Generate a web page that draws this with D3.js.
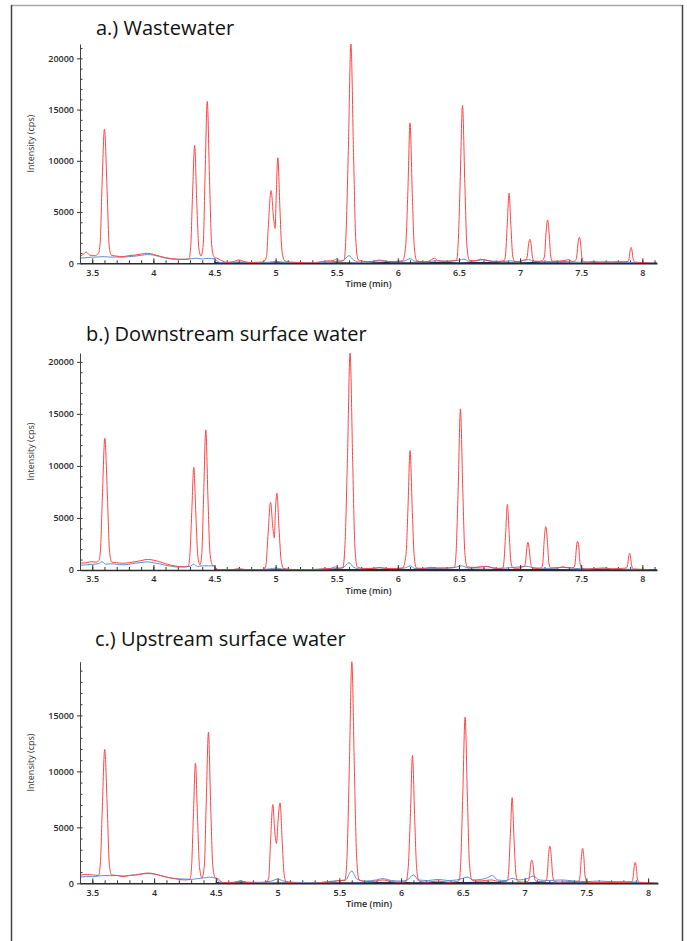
<!DOCTYPE html>
<html>
<head>
<meta charset="utf-8">
<script src="https://cdn.jsdelivr.net/npm/d3@7"></script>
<style>
  body { margin: 0; background: #fff; }
  svg { display: block; }
</style>
</head>
<body>
<div id="chart"></div>
<script>
const width = 687,
  height = 941;

// tick labels
const timeTicks = [3.5, 4, 4.5, 5, 5.5, 6, 6.5, 7, 7.5, 8];
const intensityTicksAB = [0, 5000, 10000, 15000, 20000];
const intensityTicksC = [0, 5000, 10000, 15000];
const titles = ["a.) Wastewater", "b.) Downstream surface water", "c.) Upstream surface water"];

// ---- a.) wastewater : [time (min), intensity (cps)]
const redA = [
  [3.40, 650], [3.43, 900], [3.45, 1100], [3.48, 800], [3.52, 750], [3.55, 950],
  [3.565, 2000], [3.58, 7500], [3.60, 13100], [3.622, 7000], [3.638, 1800], [3.655, 800],
  [3.70, 700], [3.75, 650], [3.80, 750], [3.85, 800], [3.90, 900], [3.95, 980], [4.00, 880],
  [4.05, 700], [4.10, 550], [4.15, 450], [4.20, 400], [4.25, 380], [4.29, 420],
  [4.305, 1500], [4.32, 6500], [4.338, 11500], [4.355, 6000], [4.372, 1500], [4.39, 700],
  [4.408, 1800], [4.423, 8500], [4.441, 15800], [4.46, 8000], [4.477, 1800], [4.495, 650],
  [4.52, 500], [4.56, 250], [4.60, 100], [4.65, 150], [4.70, 320], [4.75, 150], [4.80, 80],
  [4.85, 100], [4.90, 150],
  [4.925, 600], [4.94, 3500], [4.963, 7100], [4.985, 4200], [4.996, 3400], [5.005, 6500],
  [5.018, 10300], [5.035, 5500], [5.05, 1500], [5.07, 300],
  [5.10, 150], [5.15, 100], [5.20, 80], [5.25, 30], [5.30, 20], [5.35, 120], [5.40, 200],
  [5.45, 250], [5.48, 300], [5.50, 450], [5.53, 200], [5.56, 300],
  [5.575, 2500], [5.595, 11000], [5.616, 21400], [5.638, 10500], [5.655, 2500], [5.675, 350],
  [5.72, 200], [5.78, 150], [5.85, 250], [5.90, 200], [5.95, 150], [6.00, 200], [6.04, 250],
  [6.065, 1800], [6.082, 7000], [6.10, 13700], [6.118, 6800], [6.135, 1500], [6.155, 250],
  [6.20, 150], [6.25, 200], [6.30, 500], [6.33, 250], [6.40, 200], [6.45, 250], [6.48, 300],
  [6.493, 1800], [6.51, 8000], [6.529, 15400], [6.548, 7800], [6.565, 1700], [6.585, 300],
  [6.63, 250], [6.68, 400], [6.72, 300], [6.78, 150], [6.83, 200], [6.87, 250],
  [6.88, 700], [6.895, 3800], [6.91, 6830], [6.925, 3600], [6.94, 700], [6.955, 200],
  [6.99, 150], [7.03, 300], [7.05, 350],
  [7.06, 800], [7.07, 1900], [7.08, 2340], [7.09, 1900], [7.10, 700], [7.115, 200],
  [7.15, 200], [7.18, 250],
  [7.20, 700], [7.212, 3000], [7.225, 4220], [7.238, 2900], [7.25, 700], [7.265, 200],
  [7.30, 200], [7.35, 250], [7.40, 350], [7.43, 150], [7.455, 300],
  [7.465, 800], [7.475, 2100], [7.485, 2540], [7.495, 2000], [7.505, 600], [7.52, 150],
  [7.56, 100], [7.60, 150], [7.65, 100], [7.70, 150], [7.75, 120], [7.80, 150], [7.85, 150], [7.885, 200],
  [7.892, 500], [7.90, 1200], [7.908, 1560], [7.916, 1200], [7.925, 400], [7.94, 120],
  [7.98, 80], [8.02, 50], [8.05, 30]
];
const blueA = [
  [3.40, 500], [3.45, 550], [3.50, 600], [3.55, 620], [3.60, 650], [3.65, 600], [3.70, 620],
  [3.75, 600], [3.80, 650], [3.85, 700], [3.90, 780], [3.95, 850], [4.00, 800], [4.05, 650],
  [4.10, 500], [4.15, 420], [4.20, 380], [4.25, 400], [4.30, 420], [4.35, 500], [4.40, 420],
  [4.45, 480], [4.50, 420], [4.53, 150], [4.56, 50], [4.65, 80], [4.70, 150], [4.75, 80],
  [4.85, 60], [4.95, 100], [5.00, 200], [5.05, 120], [5.15, 60], [5.30, 40], [5.45, 150],
  [5.55, 250], [5.60, 750], [5.64, 300], [5.70, 120], [5.80, 200], [5.85, 320], [5.90, 200],
  [6.00, 150], [6.06, 250], [6.10, 450], [6.14, 200], [6.25, 150], [6.30, 250], [6.40, 200],
  [6.50, 300], [6.54, 400], [6.58, 200], [6.65, 250], [6.70, 350], [6.75, 250], [6.85, 150],
  [6.92, 250], [6.97, 150], [7.03, 300], [7.07, 350], [7.12, 200], [7.20, 150], [7.30, 200],
  [7.40, 150], [7.50, 100], [7.60, 150], [7.70, 100], [7.80, 120], [7.90, 80], [7.96, 60]
];
const darkA = [
  [4.50, 100], [4.55, 30], [4.70, 50], [4.90, 20], [5.10, 40], [5.30, 10], [5.50, 40], [5.70, 30],
  [5.90, 60], [6.10, 40], [6.30, 70], [6.50, 50], [6.70, 80], [6.90, 40], [7.10, 60], [7.30, 40],
  [7.50, 30], [7.70, 50], [7.90, 30], [8.12, 20]
];

// ---- b.) downstream surface water
const redB = [
  [3.40, 650], [3.45, 700], [3.50, 800], [3.53, 750], [3.555, 900],
  [3.568, 2000], [3.583, 7000], [3.603, 12660], [3.625, 6800], [3.642, 1700], [3.66, 750],
  [3.70, 700], [3.75, 650], [3.80, 700], [3.85, 800], [3.90, 900], [3.95, 1020], [4.00, 950],
  [4.05, 800], [4.10, 600], [4.15, 450], [4.20, 350], [4.25, 300], [4.285, 350],
  [4.298, 1300], [4.314, 5500], [4.331, 9870], [4.348, 5200], [4.365, 1200], [4.382, 500],
  [4.396, 1500], [4.411, 7000], [4.429, 13460], [4.447, 6800], [4.464, 1500], [4.485, 450],
  [4.50, 400], [4.52, 50], [4.55, 0], [4.65, 30], [4.70, 120], [4.75, 30], [4.85, 0], [4.90, 50],
  [4.92, 400], [4.937, 3200], [4.959, 6500], [4.978, 4000], [4.99, 3100], [4.998, 5500],
  [5.011, 7370], [5.028, 4000], [5.045, 1000], [5.065, 150],
  [5.10, 80], [5.20, 30], [5.30, 20], [5.38, 100], [5.45, 150], [5.49, 300], [5.52, 150], [5.55, 250],
  [5.568, 2500], [5.588, 10800], [5.609, 20850], [5.631, 10300], [5.648, 2400], [5.668, 300],
  [5.72, 150], [5.80, 150], [5.85, 250], [5.90, 150], [6.00, 150], [6.04, 200],
  [6.067, 1500], [6.083, 6000], [6.10, 11470], [6.118, 5800], [6.134, 1300], [6.152, 200],
  [6.20, 150], [6.27, 250], [6.32, 200], [6.40, 200], [6.45, 250], [6.465, 300],
  [6.477, 1800], [6.494, 8000], [6.512, 15480], [6.531, 7800], [6.548, 1700], [6.567, 300],
  [6.62, 250], [6.68, 300], [6.72, 350], [6.78, 200], [6.83, 150], [6.86, 200],
  [6.867, 700], [6.882, 3500], [6.896, 6300], [6.911, 3400], [6.926, 700], [6.942, 200],
  [6.98, 150], [7.02, 300], [7.035, 350],
  [7.045, 800], [7.055, 2100], [7.064, 2660], [7.074, 2100], [7.085, 800], [7.10, 200],
  [7.14, 150], [7.175, 200],
  [7.186, 700], [7.198, 3000], [7.21, 4170], [7.223, 2900], [7.235, 700], [7.25, 200],
  [7.30, 200], [7.35, 300], [7.40, 200], [7.44, 250],
  [7.452, 800], [7.461, 2200], [7.47, 2760], [7.48, 2200], [7.49, 700], [7.505, 150],
  [7.55, 100], [7.62, 150], [7.70, 200], [7.75, 100], [7.82, 150], [7.87, 200],
  [7.88, 500], [7.888, 1250], [7.896, 1600], [7.904, 1250], [7.913, 400], [7.928, 100],
  [7.97, 80], [8.02, 50], [8.05, 30]
];
const blueB = [
  [3.40, 450], [3.45, 500], [3.50, 550], [3.55, 600], [3.58, 800], [3.61, 550], [3.65, 600],
  [3.70, 550], [3.75, 500], [3.80, 550], [3.85, 650], [3.90, 720], [3.95, 780], [4.00, 700],
  [4.05, 600], [4.10, 450], [4.15, 350], [4.20, 280], [4.25, 300], [4.30, 350], [4.33, 550],
  [4.36, 350], [4.40, 400], [4.45, 400], [4.50, 380], [4.52, 50], [4.60, 30], [4.70, 80],
  [4.80, 30], [4.95, 100], [5.00, 180], [5.05, 100], [5.20, 30], [5.40, 100], [5.55, 200],
  [5.60, 700], [5.64, 250], [5.70, 100], [5.85, 200], [5.95, 120], [6.06, 200], [6.10, 400],
  [6.14, 150], [6.30, 150], [6.45, 200], [6.52, 400], [6.58, 200], [6.65, 250], [6.72, 350],
  [6.80, 150], [6.90, 200], [7.00, 300], [7.05, 350], [7.12, 200], [7.25, 150], [7.35, 250],
  [7.45, 150], [7.55, 100], [7.70, 120], [7.85, 80], [7.95, 60]
];
const darkB = [
  [4.50, 80], [4.55, 20], [4.70, 40], [4.90, 10], [5.10, 30], [5.30, 10], [5.50, 30], [5.70, 40],
  [5.90, 50], [6.10, 30], [6.30, 60], [6.50, 40], [6.70, 70], [6.90, 30], [7.10, 50], [7.30, 30],
  [7.50, 20], [7.70, 40], [7.90, 20], [8.12, 20]
];

// ---- c.) upstream surface water
const redC = [
  [3.40, 700], [3.45, 800], [3.50, 750], [3.55, 700],
  [3.565, 1800], [3.58, 6500], [3.60, 11960], [3.622, 6300], [3.638, 1600], [3.655, 750],
  [3.70, 700], [3.75, 600], [3.80, 700], [3.85, 750], [3.90, 850], [3.95, 920], [4.00, 850],
  [4.05, 700], [4.10, 550], [4.15, 450], [4.20, 350], [4.25, 300], [4.29, 350],
  [4.303, 1400], [4.318, 6000], [4.335, 10740], [4.352, 5700], [4.368, 1400], [4.388, 500],
  [4.407, 1600], [4.422, 7200], [4.44, 13500], [4.458, 7000], [4.475, 1600], [4.495, 500],
  [4.52, 400], [4.55, 80], [4.60, 50], [4.65, 80], [4.70, 180], [4.75, 80], [4.80, 30],
  [4.88, 0], [4.91, 100],
  [4.928, 500], [4.943, 3800], [4.961, 7030], [4.978, 4500], [4.991, 3560], [5.003, 5500],
  [5.02, 7180], [5.037, 3800], [5.052, 900], [5.07, 100],
  [5.10, 50], [5.20, 0], [5.30, 0], [5.38, 100], [5.45, 150], [5.50, 250], [5.545, 250],
  [5.562, 2400], [5.581, 10500], [5.601, 19800], [5.622, 10000], [5.64, 2300], [5.66, 300],
  [5.72, 150], [5.80, 200], [5.85, 300], [5.92, 150], [6.00, 100], [6.04, 150],
  [6.058, 1500], [6.075, 6000], [6.092, 11420], [6.11, 5800], [6.126, 1300], [6.145, 200],
  [6.20, 100], [6.25, 150], [6.30, 200], [6.38, 100], [6.45, 150], [6.47, 250],
  [6.482, 1700], [6.499, 7800], [6.518, 14840], [6.537, 7600], [6.554, 1600], [6.573, 300],
  [6.62, 200], [6.68, 250], [6.73, 300], [6.80, 150], [6.85, 150], [6.86, 250],
  [6.869, 800], [6.884, 4200], [6.899, 7660], [6.914, 4000], [6.93, 800], [6.946, 150],
  [6.99, 100], [7.02, 150], [7.032, 250],
  [7.04, 700], [7.049, 1700], [7.058, 2070], [7.068, 1700], [7.078, 600], [7.092, 200],
  [7.13, 150], [7.172, 200],
  [7.182, 600], [7.193, 2400], [7.204, 3320], [7.216, 2400], [7.228, 600], [7.243, 150],
  [7.29, 100], [7.35, 150], [7.40, 150], [7.44, 200],
  [7.45, 800], [7.46, 2400], [7.469, 3120], [7.479, 2400], [7.489, 700], [7.505, 100],
  [7.55, 50], [7.62, 80], [7.70, 100], [7.75, 60], [7.82, 80], [7.87, 150],
  [7.878, 500], [7.887, 1450], [7.895, 1870], [7.904, 1450], [7.913, 400], [7.928, 80],
  [7.97, 50], [8.02, 30], [8.05, 20]
];
const blueC = [
  [3.40, 550], [3.45, 600], [3.50, 600], [3.55, 650], [3.60, 700], [3.65, 680], [3.70, 700],
  [3.75, 650], [3.80, 700], [3.85, 750], [3.90, 820], [3.95, 870], [4.00, 820], [4.05, 700],
  [4.10, 550], [4.15, 450], [4.20, 400], [4.25, 380], [4.30, 350], [4.35, 420], [4.40, 480],
  [4.45, 550], [4.50, 450], [4.53, 100], [4.56, 50], [4.65, 100], [4.70, 230], [4.75, 100],
  [4.85, 80], [4.95, 200], [5.00, 380], [5.05, 200], [5.15, 80], [5.30, 50], [5.45, 200],
  [5.55, 300], [5.60, 1100], [5.64, 400], [5.70, 200], [5.80, 300], [5.85, 420], [5.92, 250],
  [6.00, 200], [6.05, 300], [6.10, 750], [6.14, 300], [6.22, 250], [6.30, 350], [6.38, 250],
  [6.45, 300], [6.50, 450], [6.54, 550], [6.58, 300], [6.65, 350], [6.70, 500], [6.74, 700],
  [6.78, 300], [6.85, 250], [6.90, 450], [6.95, 300], [7.03, 450], [7.07, 650], [7.12, 300],
  [7.20, 250], [7.30, 300], [7.40, 200], [7.50, 150], [7.60, 200], [7.70, 150], [7.80, 150],
  [7.90, 100], [7.96, 80]
];
const darkC = [
  [4.50, 90], [4.55, 30], [4.70, 50], [4.90, 20], [5.10, 40], [5.30, 10], [5.50, 50], [5.70, 40],
  [5.90, 60], [6.10, 50], [6.30, 70], [6.50, 60], [6.70, 90], [6.90, 40], [7.10, 60], [7.30, 40],
  [7.50, 30], [7.70, 50], [7.90, 30], [8.08, 20]
];

const colors = { red: "#ff4444", blue: "#5a8fd0", dark: "#1c2f52" };

// panel geometry
const panels = [
  { title: titles[0], tx: 96, ty: 35, left: 80, right: 657, top: 44, bottom: 263.3,
    xDomain: [3.4, 8.12], yMax: 21400, yTicks: intensityTicksAB, red: redA, blue: blueA, dark: darkA },
  { title: titles[1], tx: 86, ty: 341, left: 80, right: 657, top: 353, bottom: 570,
    xDomain: [3.4, 8.12], yMax: 20850, yTicks: intensityTicksAB, red: redB, blue: blueB, dark: darkB },
  { title: titles[2], tx: 95, ty: 646, left: 80, right: 658, top: 661.7, bottom: 883.3,
    xDomain: [3.4, 8.08], yMax: 19800, yTicks: intensityTicksC, red: redC, blue: blueC, dark: darkC }
];

const svg = d3.select("#chart")
  .append("svg")
  .attr("width", width)
  .attr("height", height);

// outer frame (no bottom edge)
svg.append("line").attr("x1", 11).attr("x2", 683).attr("y1", 5.5).attr("y2", 5.5)
  .attr("stroke", "#a8a8a8").attr("stroke-width", 1.5);
svg.append("line").attr("x1", 11.5).attr("x2", 11.5).attr("y1", 5).attr("y2", height)
  .attr("stroke", "#444").attr("stroke-width", 1.5);
svg.append("line").attr("x1", 682.5).attr("x2", 682.5).attr("y1", 5).attr("y2", height)
  .attr("stroke", "#444").attr("stroke-width", 1.5);

const minorTime = d3.range(34, 82).map(d => d / 10);

panels.forEach(p => {
  const x = d3.scaleLinear().domain(p.xDomain).range([p.left, p.right]);
  const y = d3.scaleLinear().domain([0, p.yMax]).range([p.bottom, p.top]);
  const g = svg.append("g");

  g.append("text")
    .attr("x", p.tx)
    .attr("y", p.ty)
    .attr("font-family", "Open Sans")
    .attr("font-size", 20)
    .attr("fill", "#111")
    .text(p.title);

  // minor time ticks
  g.append("g")
    .attr("transform", `translate(0,${p.bottom})`)
    .call(d3.axisBottom(x).tickValues(minorTime.filter(t => t <= p.xDomain[1])).tickSize(-3).tickFormat(""))
    .call(a => a.select(".domain").remove())
    .selectAll("line").attr("stroke", "#333");

  // minor intensity ticks
  g.append("g")
    .attr("transform", `translate(${p.left},0)`)
    .call(d3.axisRight(y).tickValues(d3.range(0, p.yMax, 1000)).tickSize(2.5).tickFormat(""))
    .call(a => a.select(".domain").remove())
    .selectAll("line").attr("stroke", "#333");

  // lines
  const line = d3.line().x(d => x(d[0])).y(d => y(d[1])).curve(d3.curveMonotoneX);
  [["dark", p.dark], ["blue", p.blue], ["red", p.red]].forEach(([k, data]) => {
    g.append("path")
      .datum(data)
      .attr("fill", "none")
      .attr("stroke", colors[k])
      .attr("stroke-width", k === "dark" ? 1.2 : 1)
      .attr("d", line);
  });

  // major axes
  const xAxis = g.append("g")
    .attr("transform", `translate(0,${p.bottom})`)
    .call(d3.axisBottom(x).tickValues(timeTicks).tickSizeInner(-5).tickSizeOuter(0).tickPadding(6).tickFormat(d3.format("")));
  xAxis.select(".domain").attr("stroke", "#2a2a2a").attr("stroke-width", 1.5);

  const yAxis = g.append("g")
    .attr("transform", `translate(${p.left},0)`)
    .call(d3.axisLeft(y).tickValues(p.yTicks).tickSizeInner(3).tickSizeOuter(0).tickPadding(3).tickFormat(d3.format("d")));
  yAxis.select(".domain").attr("stroke", "#444").attr("stroke-width", 1);

  [xAxis, yAxis].forEach(a => {
    a.selectAll("text")
      .attr("font-family", "Open Sans")
      .attr("font-size", 9)
      .attr("font-weight", 600)
      .attr("fill", "#2a2a2a");
    a.selectAll(".tick line").attr("stroke", "#333");
  });

  g.append("text")
    .attr("x", (p.left + p.right) / 2)
    .attr("y", p.bottom + 24)
    .attr("text-anchor", "middle")
    .attr("font-family", "Open Sans")
    .attr("font-size", 9)
    .attr("font-weight", 600)
    .attr("fill", "#2a2a2a")
    .text("Time (min)");

  g.append("text")
    .attr("transform", `translate(32,${(p.top + p.bottom) / 2 - 10}) rotate(-90)`)
    .attr("text-anchor", "middle")
    .attr("dominant-baseline", "middle")
    .attr("font-family", "Open Sans")
    .attr("font-size", 9)
    .attr("fill", "#333")
    .text("Intensity (cps)");
});
</script>
</body>
</html>
